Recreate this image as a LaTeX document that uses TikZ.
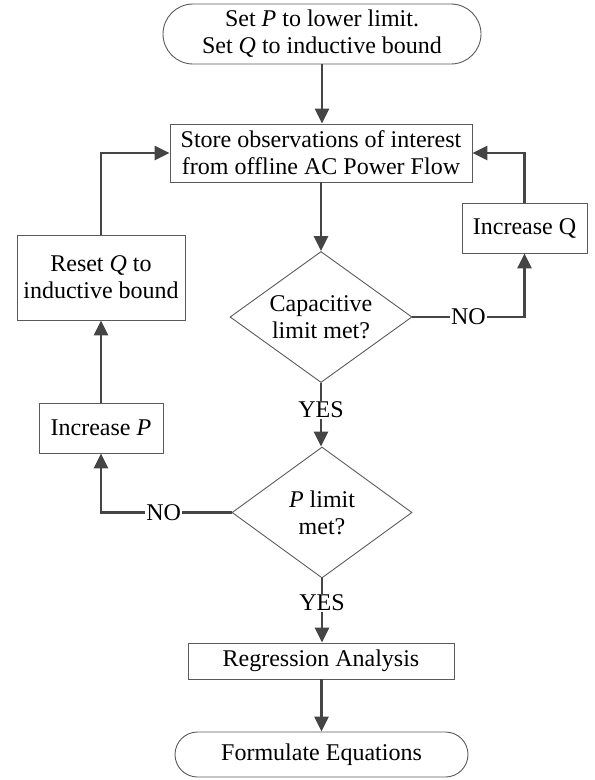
\documentclass[tikz,border=0pt]{standalone}
\usepackage{fontspec}
\setmainfont{Liberation Serif}
\usetikzlibrary{arrows.meta,shapes.geometric}
\definecolor{boxc}{HTML}{5A5A5A}
\definecolor{linec}{HTML}{454545}
\tikzset{
  txt/.style={font=\fontsize{24}{27}\selectfont, text=black},
  box/.style={txt, draw=boxc, line width=0.9pt, rectangle, inner sep=0pt, align=center},
  term/.style={box, rounded corners=#1},
  dia/.style={diamond, draw=boxc, line width=0.9pt, inner sep=0pt},
  conn/.style={draw=linec, line width=2.6pt, -{Triangle[length=15pt,width=14pt]}},
  lbl/.style={txt, fill=white, inner sep=1pt},
}
\begin{document}
\begin{tikzpicture}[x=1pt,y=-1pt]
\useasboundingbox (0,0) rectangle (595,780);
\node[term=30pt, minimum width=318pt, minimum height=60pt] (top) at (322,34) {Set \textit{P} to lower limit.\\Set \textit{Q} to inductive bound};
\node[box, minimum width=302pt, minimum height=58pt] (store) at (321,153) {Store observations of interest\\from offline AC Power Flow};
\node[box, minimum width=168pt, minimum height=85pt] (reset) at (101,277.5) {Reset \textit{Q} to\\inductive bound};
\node[box, minimum width=125pt, minimum height=50pt] (incq) at (524.5,228) {Increase Q};
\node[dia, minimum width=182pt, minimum height=131pt] (cap) at (321,317) {};
\node[txt, align=center] (captxt) at (cap) {Capacitive\\limit met?};
\node[box, minimum width=124pt, minimum height=50pt] (incp) at (101,428) {Increase \textit{P}};
\node[dia, minimum width=180pt, minimum height=131pt] (pdia) at (322,512.5) {};
\node[txt, align=center] (ptxt) at (pdia) {\textit{P} limit\\met?};
\node[box, minimum width=266pt, minimum height=36pt] (reg) at (321,661) {Regression Analysis};
\node[term=22.5pt, minimum width=293pt, minimum height=45pt] (form) at (321.5,754.5) {Formulate Equations};

\draw[conn] (top.south) -- (top.south |- store.north);
\draw[conn] (store.south -| cap.north) -- (cap.north);
\draw[conn] (cap.east) -- node[lbl, pos=0.5] {NO} (incq.south |- cap.east) -- (incq.south);
\draw[conn] (incq.north) |- (store.east);
\draw[conn] (cap.south) -- node[lbl, pos=0.42] {YES} (cap.south |- pdia.north);
\draw[conn] (pdia.west) -- node[lbl, pos=0.52] {NO} (incp.south |- pdia.west) -- (incp.south);
\draw[conn] (incp.north) -- (reset.south);
\draw[conn] (reset.north) |- (store.west);
\draw[conn] (pdia.south) -- node[lbl, pos=0.38] {YES} (pdia.south |- reg.north);
\draw[conn] (reg.south -| form.north) -- (form.north);
\end{tikzpicture}
\end{document}
